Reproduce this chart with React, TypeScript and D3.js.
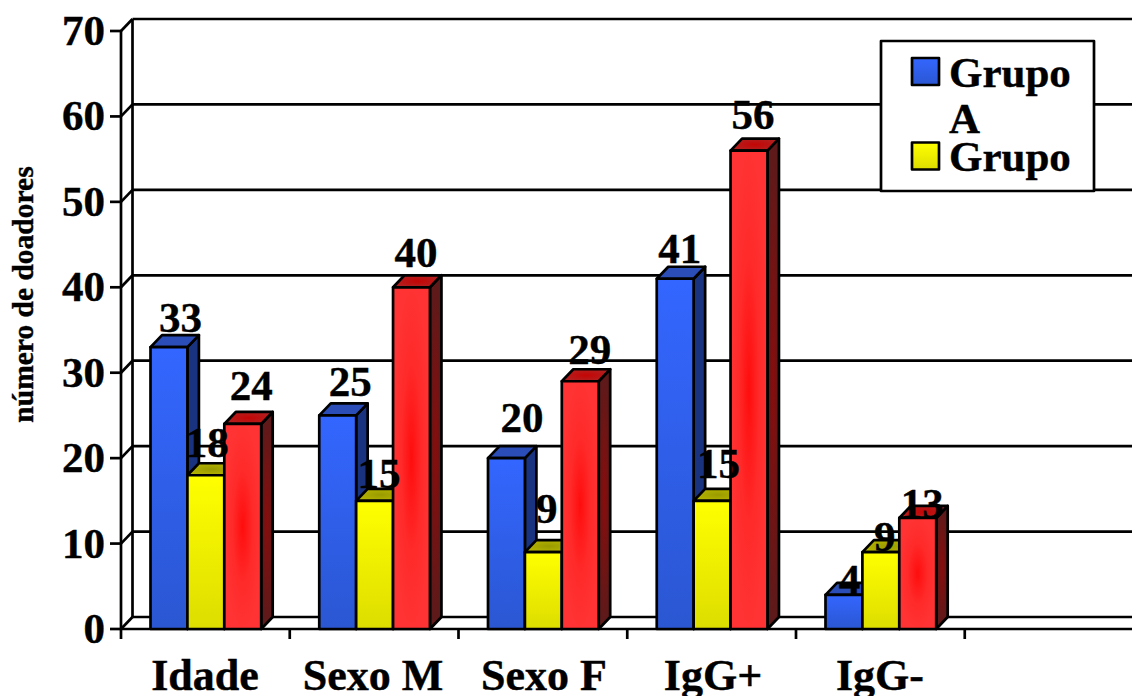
import React from "react";
import * as d3 from "d3";

const categories = ["Idade", "Sexo M", "Sexo F", "IgG+", "IgG-"];
const grupoA = [33, 25, 20, 41, 4];
const grupoB = [18, 15, 9, 15, 9];
const grupoC = [24, 40, 29, 56, 13];
const yTicks = [0, 10, 20, 30, 40, 50, 60, 70];

// Hand placement of the value labels, relative to each bar's centre and top edge.
const labelDx = [[11.5, 12.5, 15.5, 4.5, 5.5], [1.5, 4.5, 3.5, 6.5, 4], [8.5, 4.5, 9.5, 4, 4.5]];
const labelDy = [[-15, -19, -26, -16, -1], [-18, -13, -29, -23, -1], [-24, -20, -17, -22, 0]];

const W = 1132;
const H = 696;
const x0 = 121;
const xEnd = 1132;
const bandW = 168.75;
const depthX = 11.5;
const depthY = 12;
const barW = 36.9;
const FS = 43;
const SERIF = "'Liberation Serif', 'Times New Roman', serif";

const y = d3.scaleLinear().domain([0, 70]).range([629, 31]);
const xBand = d3.scaleBand<string>().domain(categories).range([x0, x0 + bandW * categories.length]);
const xGroup = d3.scaleBand<number>().domain([0, 1, 2]).range([29.5, 29.5 + barW * 3]);

const palette = [
  { id: "a", front: ["#3366ff", "#2b57d2"], side: ["#1a3380", "#1a3380"], top: ["#2a4db8", "#2a4db8"] },
  { id: "b", front: ["#ffff00", "#dddd00"], side: ["#808000", "#808000"], top: ["#b3b300", "#9a9a00"] },
  { id: "c", front: ["#ff3333", "#ff0d0d"], side: ["#5c1a1a", "#8a0c0c"], top: ["#b31f1f", "#c40505"] },
];
const seriesValues = [grupoA, grupoB, grupoC];
const stroke = { stroke: "#000", strokeWidth: 2.7, strokeLinejoin: "round" as const };

function Bar({ s, c }: { s: number; c: number }) {
  const v = seriesValues[s][c];
  const left = (xBand(categories[c]) as number) + (xGroup(s) as number);
  const right = left + barW;
  const top = y(v);
  const base = y(0);
  const p = palette[s];
  const side = d3.path();
  side.moveTo(right, top);
  side.lineTo(right + depthX, top - depthY);
  side.lineTo(right + depthX, base - depthY);
  side.lineTo(right, base);
  side.closePath();
  const cap = d3.path();
  cap.moveTo(left, top);
  cap.lineTo(left + depthX, top - depthY);
  cap.lineTo(right + depthX, top - depthY);
  cap.lineTo(right, top);
  cap.closePath();
  return (
    <g>
      <path d={side.toString()} fill={`url(#side-${p.id})`} {...stroke} />
      <path d={cap.toString()} fill={`url(#cap-${p.id})`} {...stroke} />
      <rect x={left} y={top} width={barW} height={base - top} fill={`url(#front-${p.id})`} {...stroke} />
    </g>
  );
}

export default function App() {
  const order: [number, number][] = [];
  categories.forEach((_, c) => [0, 1, 2].forEach((s) => order.push([s, c])));
  const legendRows = [
    { fill: "url(#front-a)", y: 58, lines: [["Grupo", 87], ["A", 133]] },
    { fill: "url(#front-b)", y: 142.5, lines: [["Grupo", 171]] },
  ];
  const textInk = { stroke: "#000", strokeWidth: 0.4 };
  return (
    <svg width={W} height={H} style={{ position: "absolute", left: 0, top: 0, background: "#fff" }} fontFamily={SERIF} fontWeight="bold">
      <defs>
        {palette.slice(0, 2).map((p) => (
          <linearGradient key={p.id} id={`front-${p.id}`} x1="0" y1="0" x2="0" y2="1">
            <stop offset="0" stopColor={p.front[0]} />
            <stop offset="1" stopColor={p.front[1]} />
          </linearGradient>
        ))}
        <radialGradient id="front-c" cx="0.5" cy="0.5" r="0.5">
          <stop offset="0" stopColor={palette[2].front[1]} />
          <stop offset="0.55" stopColor="#ff2a2a" />
          <stop offset="1" stopColor={palette[2].front[0]} />
        </radialGradient>
        {palette.map((p) => (
          <radialGradient key={p.id} id={`side-${p.id}`} cx="0.5" cy="0.5" r="0.5">
            <stop offset="0" stopColor={p.side[1]} />
            <stop offset="1" stopColor={p.side[0]} />
          </radialGradient>
        ))}
        {palette.map((p) => (
          <radialGradient key={p.id} id={`cap-${p.id}`} cx="0.5" cy="0.5" r="0.5">
            <stop offset="0" stopColor={p.top[1]} />
            <stop offset="1" stopColor={p.top[0]} />
          </radialGradient>
        ))}
      </defs>

      {/* Back wall, side wall and floor */}
      {yTicks.map((t) => (
        <g key={t} {...stroke} fill="none">
          <line x1={x0 - 11} x2={x0} y1={y(t)} y2={y(t)} />
          <line x1={x0} x2={x0 + depthX} y1={y(t)} y2={y(t) - depthY} />
          <line x1={x0 + depthX} x2={xEnd} y1={y(t) - depthY} y2={y(t) - depthY} />
        </g>
      ))}
      <line x1={x0} x2={x0} y1={y(70)} y2={639} {...stroke} />
      <line x1={x0 + depthX} x2={x0 + depthX} y1={y(70) - depthY} y2={y(0) - depthY} {...stroke} />
      <line x1={x0} x2={xEnd} y1={y(0)} y2={y(0)} {...stroke} />
      {categories.map((c) => (
        <line key={c} x1={(xBand(c) as number) + bandW} x2={(xBand(c) as number) + bandW} y1={y(0)} y2={639} {...stroke} />
      ))}

      {/* Bars */}
      {order.map(([s, c]) => (
        <Bar key={`${s}-${c}`} s={s} c={c} />
      ))}

      {/* Axis text */}
      {yTicks.map((t) => (
        <text key={t} x={105} y={y(t) + 14} textAnchor="end" fontSize={FS} {...textInk}>
          {t}
        </text>
      ))}
      {categories.map((c, i) => (
        <text key={c} x={[205, 373, 544, 713, 880][i]} y={690} textAnchor="middle" fontSize={44} {...textInk}>
          {c}
        </text>
      ))}
      <text transform="translate(33,294.5) rotate(-90)" textAnchor="middle" fontSize={29.5} {...textInk}>
        número de doadores
      </text>

      {/* Value labels */}
      {order.map(([s, c]) => {
        const cx = (xBand(categories[c]) as number) + (xGroup(s) as number) + barW / 2 + labelDx[s][c];
        return (
          <text key={`v-${s}-${c}`} x={cx} y={y(seriesValues[s][c]) + labelDy[s][c]} textAnchor="middle" fontSize={FS} {...textInk}>
            {seriesValues[s][c]}
          </text>
        );
      })}

      {/* Legend */}
      <rect x={881} y={41} width={213} height={150} fill="#fff" {...stroke} />
      {legendRows.map((r) => (
        <g key={r.y}>
          <rect x={912} y={r.y} width={27} height={27} fill={r.fill} {...stroke} />
          {r.lines.map(([t, ly]) => (
            <text key={t as string} x={949} y={ly as number} fontSize={FS} {...textInk}>
              {t}
            </text>
          ))}
        </g>
      ))}
    </svg>
  );
}
